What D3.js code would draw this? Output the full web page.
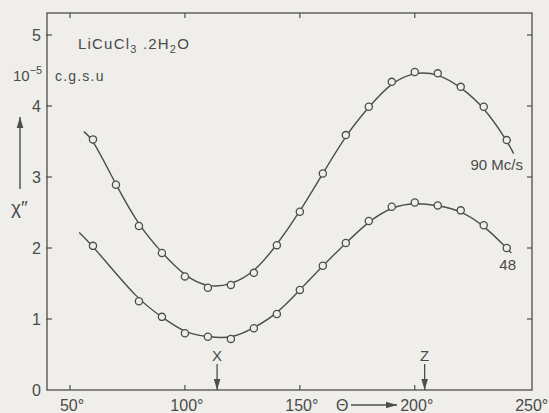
<!DOCTYPE html>
<html>
<head>
<meta charset="utf-8">
<script src="https://cdn.jsdelivr.net/npm/d3@7"></script>
<style>
  html, body { margin: 0; padding: 0; background: #efeeea; }
  svg { display: block; }
  text { font-family: "Liberation Sans", "DejaVu Sans", sans-serif; fill: #4a4a4a; }
</style>
</head>
<body>
<svg id="chart" width="549" height="413"></svg>
<script>
// Rotation angle θ (degrees) and imaginary susceptibility χ'' (10^-5 c.g.s.u)
const theta90 = [60, 70, 80, 90, 100, 110, 120, 130, 140, 150, 160, 170, 180, 190, 200, 210, 220, 230, 240];
const chi90   = [3.53, 2.89, 2.31, 1.93, 1.60, 1.44, 1.48, 1.65, 2.04, 2.51, 3.05, 3.59, 3.99, 4.34, 4.48, 4.46, 4.27, 3.99, 3.52];

const theta48 = [60, 80, 90, 100, 110, 120, 130, 140, 150, 160, 170, 180, 190, 200, 210, 220, 230, 240];
const chi48   = [2.03, 1.25, 1.03, 0.80, 0.75, 0.72, 0.87, 1.07, 1.41, 1.75, 2.07, 2.38, 2.58, 2.64, 2.60, 2.53, 2.32, 2.00];

// Where each fitted curve begins and ends beyond the measured points
const fit90Ends = [[56, 3.64], [243, 3.33]];
const fit48Ends = [[54, 2.22], [242, 1.93]];

const xTicks = [50, 100, 150, 200, 250];
const yTicks = [0, 1, 2, 3, 4, 5];
const axisMarks = [{ label: "X", theta: 114 }, { label: "Z", theta: 204.3 }];

const svg = d3.select("#chart");
const W = 549, H = 413;
const m = { left: 47, top: 13, right: 17, bottom: 23 };
const ink = "#4d4d4d";

const x = d3.scaleLinear().domain([40, 251]).range([m.left, W - m.right]);
const y = d3.scaleLinear().domain([0, 5.31]).range([H - m.bottom, m.top]);

const g = svg.append("g");

// Frame
g.append("rect")
  .attr("x", x.range()[0]).attr("y", y.range()[1])
  .attr("width", x.range()[1] - x.range()[0])
  .attr("height", y.range()[0] - y.range()[1])
  .attr("fill", "none").attr("stroke", ink).attr("stroke-width", 1.3);

// Inward ticks on all four sides
const tk = 5;
const xIn = xTicks.filter(t => t < 250);
g.selectAll(".tb").data(xIn).join("line")
  .attr("x1", d => x(d)).attr("x2", d => x(d))
  .attr("y1", y(0)).attr("y2", y(0) - tk)
  .attr("stroke", ink).attr("stroke-width", 1.2);
g.selectAll(".tt").data(xIn).join("line")
  .attr("x1", d => x(d)).attr("x2", d => x(d))
  .attr("y1", y.range()[1]).attr("y2", y.range()[1] + tk)
  .attr("stroke", ink).attr("stroke-width", 1.2);
const yIn = yTicks.filter(t => t > 0);
g.selectAll(".tl").data(yIn).join("line")
  .attr("x1", x.range()[0] - 1).attr("x2", x.range()[0] + tk)
  .attr("y1", d => y(d)).attr("y2", d => y(d))
  .attr("stroke", ink).attr("stroke-width", 1.2);
g.selectAll(".tr").data(yIn).join("line")
  .attr("x1", x.range()[1]).attr("x2", x.range()[1] - tk)
  .attr("y1", d => y(d)).attr("y2", d => y(d))
  .attr("stroke", ink).attr("stroke-width", 1.2);

// Tick labels
g.selectAll(".xl").data(xTicks).join("text")
  .attr("x", d => x(d) + 2).attr("y", 411)
  .attr("text-anchor", "middle").attr("font-size", 16)
  .text(d => d + "°");
g.selectAll(".yl").data(yTicks).join("text")
  .attr("x", 41).attr("y", d => y(d) + 6)
  .attr("text-anchor", "end").attr("font-size", 16)
  .text(d => d);

// Fitted curves and measured points
const line = d3.line()
  .x(d => x(d[0])).y(d => y(d[1]))
  .curve(d3.curveBasis);

function series(thetas, chis, ends) {
  const pts = thetas.map((t, i) => [t, chis[i]]);
  const path = [ends[0], ...pts, ends[1]];
  g.append("path").datum(path)
    .attr("d", line).attr("fill", "none")
    .attr("stroke", ink).attr("stroke-width", 1.4);
  g.append("g").selectAll("circle").data(pts).join("circle")
    .attr("cx", d => x(d[0])).attr("cy", d => y(d[1])).attr("r", 3.6)
    .attr("fill", "#efeeea").attr("stroke", ink).attr("stroke-width", 1.3);
}
series(theta90, chi90, fit90Ends);
series(theta48, chi48, fit48Ends);

// Curve labels
g.append("text").attr("x", 523).attr("y", 170).attr("text-anchor", "end")
  .attr("font-size", 15).text("90 Mc/s");
g.append("text").attr("x", 516).attr("y", 270).attr("text-anchor", "end")
  .attr("font-size", 15).text("48");

// Compound name and units
const title = g.append("text").attr("x", 78).attr("y", 49).attr("font-size", 15)
  .attr("letter-spacing", 1.2);
title.append("tspan").text("LiCuCl");
title.append("tspan").attr("font-size", 11).attr("dy", 4).text("3");
title.append("tspan").attr("dy", -4).text(" .2H");
title.append("tspan").attr("font-size", 11).attr("dy", 4).text("2");
title.append("tspan").attr("dy", -4).text("O");

const unit = g.append("text").attr("x", 13).attr("y", 81).attr("font-size", 15);
unit.append("tspan").text("10");
unit.append("tspan").attr("font-size", 11).attr("dy", -7).text("−5");
g.append("text").attr("x", 55).attr("y", 81).attr("font-size", 14)
  .attr("letter-spacing", 1.2).text("c.g.s.u");

// Arrow marker
svg.append("defs").append("marker")
  .attr("id", "head").attr("viewBox", "0 0 10 10")
  .attr("refX", 10).attr("refY", 5)
  .attr("markerWidth", 11).attr("markerHeight", 11)
  .attr("markerUnits", "userSpaceOnUse").attr("orient", "auto")
  .append("path").attr("d", "M0,2 L10,5 L0,8 Z").attr("fill", ink);

// Vertical axis title with arrow
g.append("line").attr("x1", 20).attr("x2", 20).attr("y1", 189).attr("y2", 117)
  .attr("stroke", ink).attr("stroke-width", 1.4).attr("marker-end", "url(#head)");
g.append("text").attr("x", 11).attr("y", 214).attr("font-size", 19).text("χ″");

// Horizontal axis title with arrow
g.append("text").attr("x", 336).attr("y", 411).attr("font-size", 16).text("Θ");
g.append("line").attr("x1", 351).attr("x2", 397).attr("y1", 405).attr("y2", 405)
  .attr("stroke", ink).attr("stroke-width", 1.3).attr("marker-end", "url(#head)");

// Crystal axis directions
axisMarks.forEach(d => {
  g.append("text").attr("x", x(d.theta)).attr("y", 361)
    .attr("text-anchor", "middle").attr("font-size", 15).text(d.label);
  g.append("line").attr("x1", x(d.theta)).attr("x2", x(d.theta))
    .attr("y1", 364).attr("y2", y(0))
    .attr("stroke", ink).attr("stroke-width", 1.3).attr("marker-end", "url(#head)");
});
</script>
</body>
</html>
